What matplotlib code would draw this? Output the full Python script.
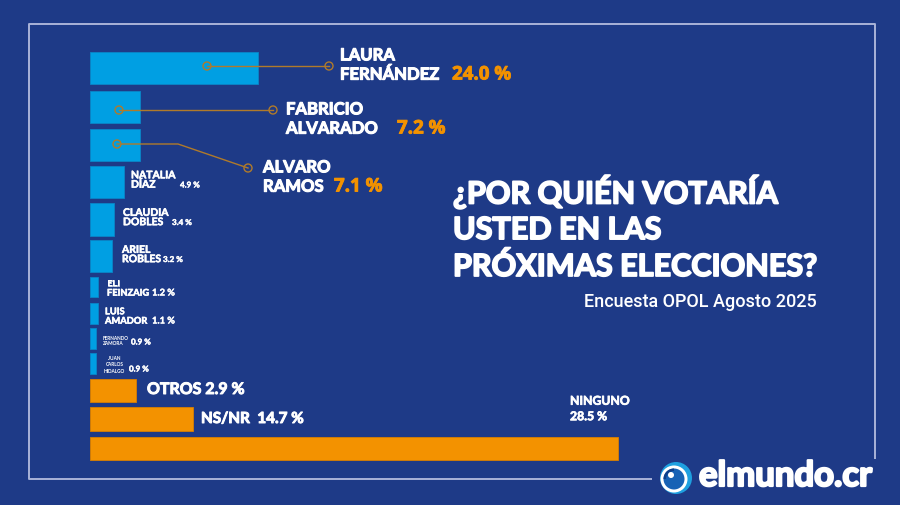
import matplotlib.pyplot as plt
from matplotlib.patches import Circle, Wedge
import matplotlib.patheffects as pe

# Datos
candidatos = ['LAURA\nFERNÁNDEZ', 'FABRICIO\nALVARADO', 'ALVARO\nRAMOS', 'NATALIA\nDÍAZ',
              'CLAUDIA\nDOBLES', 'ARIEL\nROBLES', 'ELI\nFEINZAIG', 'LUIS\nAMADOR',
              'FERNANDO\nZAMORA', 'JUAN\nCARLOS\nHIDALGO']
porcentajes = [24.0, 7.2, 7.1, 4.9, 3.4, 3.2, 1.2, 1.1, 0.9, 0.9]
otros_cat = ['OTROS', 'NS/NR', 'NINGUNO']
otros_pct = [2.9, 14.7, 28.5]
# largo dibujado de las barras naranjas en la imagen (en unidades de %)
otros_largo = [6.6, 14.7, 75.4]

titulo = '¿POR QUIÉN VOTARÍA\nUSTED EN LAS\nPRÓXIMAS ELECCIONES?'
subtitulo = 'Encuesta OPOL Agosto 2025'

FONDO = '#1e3a87'
AZUL = '#009fe3'
NARANJA = '#f39200'
MARCO = '#a9b3d8'
LINEA = '#b07a2a'

fig = plt.figure(figsize=(9, 5.06), dpi=100)
fig.patch.set_facecolor(FONDO)

# eje de las barras: 7 px por punto porcentual, origen en x=90
axb = fig.add_axes([0, 0, 1, 1])
axb.set_xlim(-90 / 7, 810 / 7)
axb.set_ylim(506, 0)
axb.axis('off')
axb.patch.set_alpha(0)

# eje en pixeles para textos y decoraciones (encima de las barras)
ax = fig.add_axes([0, 0, 1, 1])
ax.set_xlim(0, 900)
ax.set_ylim(506, 0)
ax.axis('off')
ax.patch.set_alpha(0)

y_cand = [69, 108, 146, 183, 220.5, 257, 288, 314.5, 339.5, 364.5]
h_cand = [32, 32, 32, 32, 33, 32, 20, 21, 21, 21]
axb.barh(y_cand, porcentajes, height=h_cand, color=AZUL, edgecolor='#0a86c8', linewidth=0.6)

y_otros = [391.5, 420, 449.5]
h_otros = [23, 24, 23]
axb.barh(y_otros, otros_largo, height=h_otros, color=NARANJA, edgecolor='#d97f00', linewidth=0.6)

font = 'Lato'


def negrita(color, w=0.9):
    return [pe.withStroke(linewidth=w, foreground=color)]


# marco
ax.plot([652, 29, 29, 875, 875], [480, 480, 25, 25, 460], color=MARCO, lw=1.4, solid_capstyle='butt')

# lineas guía
guias = [([207, 329], [67, 67]), ([119, 273], [111, 111]), ([117, 178, 248], [145, 145, 169])]
for xs, ys in guias:
    ax.plot(xs, ys, color=LINEA, lw=1.0)
    for px, py in [(xs[0], ys[0]), (xs[-1], ys[-1])]:
        ax.add_patch(Circle((px, py), 4, facecolor='none', edgecolor=LINEA, lw=1.0))

# etiquetas grandes
grandes = [(340, 66, 452), (286, 120, 397), (263, 178, 334)]
for i, (tx, ty, vx) in enumerate(grandes):
    ax.text(tx, ty, candidatos[i], color='white', fontsize=12, fontweight='bold',
            family=font, va='center', ha='left', linespacing=1.25,
            path_effects=negrita('white', 0.8))
    ax.text(vx, ty + 9.5, f'{porcentajes[i]:.1f} %', color=NARANJA, fontsize=13.5,
            fontweight='bold', family='Open Sans', va='center', ha='left',
            path_effects=negrita(NARANJA, 0.6))

# etiquetas medianas
medianas = [(131, 181.5, 180, 7.5, 5.8), (123, 219, 172, 7.5, 5.8), (122, 256, 163, 7.5, 5.8),
            (107, 289.5, 152, 6.7, 6.7), (105, 317.5, 152, 6.7, 6.7)]
for j, (tx, ty, vx, fs, fv) in enumerate(medianas):
    i = j + 3
    ax.text(tx, ty, candidatos[i], color='white', fontsize=fs, fontweight='bold',
            family=font, va='center', ha='left', linespacing=1.05,
            path_effects=negrita('white', 0.4))
    ax.text(vx, ty + 4.5, f'{porcentajes[i]:.1f} %', color='white', fontsize=fv,
            fontweight='bold', family=font, va='center', ha='left',
            path_effects=negrita('white', 0.3))

# etiquetas pequeñas
ax.text(103, 341, candidatos[8], color='white', fontsize=3.4, fontweight='bold',
        family=font, va='center', ha='left', linespacing=1.2)
ax.text(131, 343, f'{porcentajes[8]:.1f} %', color='white', fontsize=5.8, fontweight='bold',
        family=font, va='center', ha='left', path_effects=negrita('white', 0.3))
ax.text(104, 365, candidatos[9], color='white', fontsize=3.4, fontweight='bold',
        family=font, va='center', ha='left', linespacing=1.3, multialignment='center')
ax.text(129, 370, f'{porcentajes[9]:.1f} %', color='white', fontsize=5.8, fontweight='bold',
        family=font, va='center', ha='left', path_effects=negrita('white', 0.3))

# otros / ns-nr / ninguno
ax.text(147, 391, f'{otros_cat[0]} {otros_pct[0]:.1f} %', color='white', fontsize=11.5,
        fontweight='bold', family=font, va='center', ha='left', path_effects=negrita('white', 0.7))
ax.text(201, 420, f'{otros_cat[1]}  {otros_pct[1]:.1f} %', color='white', fontsize=11,
        fontweight='bold', family=font, va='center', ha='left', path_effects=negrita('white', 0.7))
ax.text(570, 410, f'{otros_cat[2]}\n{otros_pct[2]:.1f} %', color='white', fontsize=8.8,
        fontweight='bold', family=font, va='center', ha='left', linespacing=1.5,
        path_effects=negrita('white', 0.5))

# título
ax.text(453, 229, titulo, color='white', fontsize=22, fontweight='bold', family=font,
        va='center', ha='left', linespacing=1.33, path_effects=negrita('white', 1.3))
ax.text(817, 302, subtitulo, color='white', fontsize=13, family='Roboto',
        fontweight='medium', va='center', ha='right')

# logo
cx, cy = 676, 479
ax.add_patch(Circle((cx, cy), 16, facecolor='#1ea0e0', edgecolor='none'))
ax.add_patch(Circle((cx - 2, cy + 1), 13.5, facecolor='white', edgecolor='none'))
ax.add_patch(Circle((cx - 2, cy + 1), 10.5, facecolor='#1762b5', edgecolor='none'))
ax.add_patch(Wedge((cx - 2, cy + 1), 10.5, 180, 270, width=2.5, facecolor='#0d3f8a', edgecolor='none'))
ax.add_patch(Circle((cx - 5, cy - 3), 3, facecolor='white', edgecolor='none'))
ax.text(699, 477, 'elmundo.cr', color='white', fontsize=25, fontweight='bold',
        family=font, va='center', ha='left', path_effects=negrita('white', 1.6))

fig.savefig('out.png', dpi=100, facecolor=FONDO)
